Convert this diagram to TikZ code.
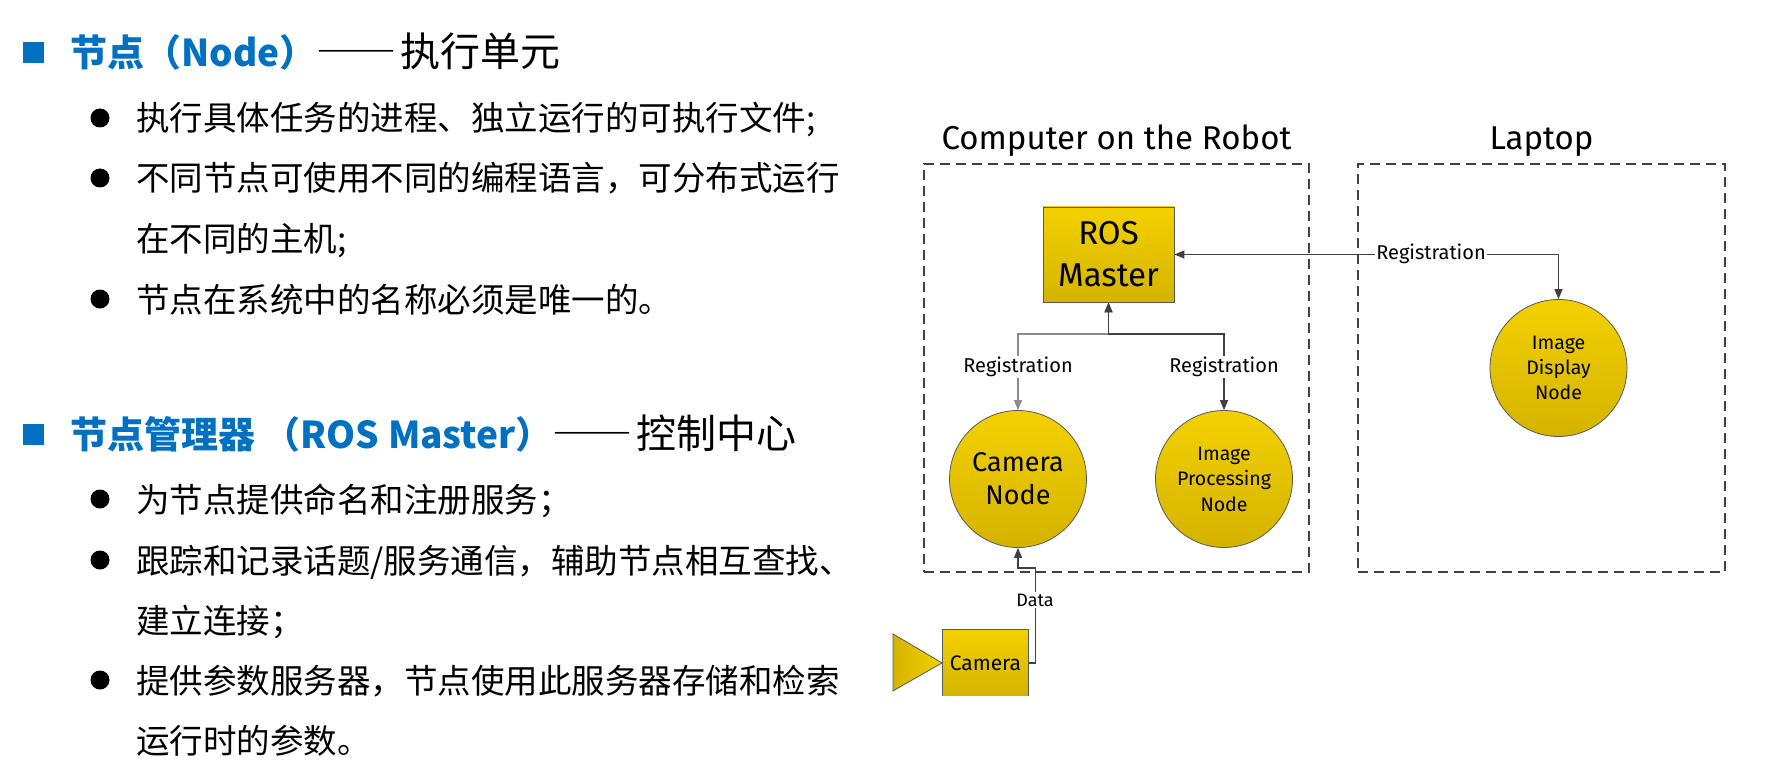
\documentclass[tikz,border=0pt]{standalone}
\usepackage{fontspec}
\setmainfont{Fira Sans}
\newfontfamily\cjk{Noto Sans CJK SC}
\usetikzlibrary{arrows.meta,positioning}
\definecolor{hblue}{RGB}{0,112,192}
\definecolor{ytop}{RGB}{243,209,0}
\definecolor{ybot}{RGB}{212,179,0}
\definecolor{lnk}{RGB}{64,64,64}
\newcommand\blue[1]{{\color{hblue}\bfseries\fontsize{37}{44}\selectfont #1}}
\newcommand\dashes{{\addfontfeatures{RawFeature=+fwid}——}}
\tikzset{
  >={Triangle[length=10pt,width=8pt]},
  yfill/.style={draw=black!65, line width=0.8pt, top color=ytop, bottom color=ybot},
  rnode/.style={yfill, circle, minimum size=137pt, inner sep=0pt, align=center},
  area/.style={draw=black!75, line width=1.2pt, dash pattern=on 10pt off 6pt, inner sep=0pt},
  link/.style={draw=lnk, line width=1.3pt},
  lbl/.style={fill=white, inner sep=1.5pt, font=\fontsize{20}{24}\selectfont},
  bul/.style={circle, fill=black, inner sep=0pt, minimum size=19pt},
  sq/.style={fill=hblue, inner sep=0pt, minimum size=21pt},
  body/.style={anchor=base west, inner sep=0pt, font=\cjk\fontsize{33.5}{40}\selectfont},
  head/.style={anchor=base west, inner sep=0pt, font=\cjk\fontsize{40}{46}\selectfont},
}
\begin{document}
\begin{tikzpicture}[x=1pt,y=-1pt]
\useasboundingbox (0,0) rectangle (1782,778);
% left text
\node[sq] (sqa) at (33,53) {};
\node[head] (heada) at (70,67) {\blue{节点（Node）}\dashes\hspace{4pt}执行单元};
\foreach \y/\n in {118/a,178/b,299/c}
  \node[bul] (bul\n) at (100,\y) {};
\node[body] (ta) at (136,131) {执行具体任务的进程、独立运行的可执行文件;};
\node[body] (tb) at (136,191) {不同节点可使用不同的编程语言，可分布式运行};
\node[body] (tbb) at (136,251) {在不同的主机;};
\node[body] (tc) at (136,312) {节点在系统中的名称必须是唯一的。};
\node[sq] (sqb) at (33,434) {};
\node[head] (headb) at (70,448) {\blue{节点管理器 （ROS Master）}\dashes\hspace{4pt}控制中心};
\foreach \y/\n in {499/d,560/e,680/f}
  \node[bul] (bul\n) at (100,\y) {};
\node[body] (td) at (136,512) {为节点提供命名和注册服务；};
\node[body] (te) at (136,573) {跟踪和记录话题/服务通信，辅助节点相互查找、};
\node[body] (tee) at (136,633) {建立连接；};
\node[body] (tf) at (136,693) {提供参数服务器，节点使用此服务器存储和检索};
\node[body] (tff) at (136,753) {运行时的参数。};
% hosts
\node[area, minimum width=385pt, minimum height=408pt] (robot) at (1116.5,368) {};
\node[area, minimum width=367pt, minimum height=408pt] (laptop) at (1541.5,368) {};
\node[anchor=base, font=\fontsize{33}{40}\selectfont] (trobot) at (1116.5,150) {Computer on the Robot};
\node[anchor=base, font=\fontsize{33}{40}\selectfont] (tlaptop) at (1541.5,150) {Laptop};
% nodes
\node[yfill, minimum width=131pt, minimum height=95pt, inner sep=0pt, align=center,
  font=\fontsize{33}{42}\selectfont] (ros) at (1108.5,254.5) {ROS\\Master};
\node[rnode, font=\fontsize{27}{33}\selectfont] (camnode) at (1018,479) {Camera\\Node};
\node[rnode, font=\fontsize{19.5}{25.5}\selectfont] (procnode) at (1224,479) {Image\\Processing\\Node};
\node[rnode, font=\fontsize{19.5}{25}\selectfont] (dispnode) at (1558.5,368) {Image\\Display\\Node};
% camera
\begin{scope}
\clip (860,600) rectangle (1100,695.3);
\node[yfill, minimum width=86pt, minimum height=67pt, anchor=north west, inner sep=0pt,
  font=\fontsize{21}{25}\selectfont] (cambox) at (942,629) {Camera};
\draw[draw=black!65, line width=0.8pt, left color=ybot, right color=ytop]
  (cambox.west) -- ++(-49,-29) -- ++(0,57) -- cycle;
\end{scope}
% connectors
\coordinate (jn) at (1108.5,334);
\draw[link, draw=black!45, <->] (ros.south) -- (jn) -| (camnode.north);
\draw[link, <->] (ros.south) -- (jn) -| (procnode.north);
\draw[link, <->] (ros.east) -| (dispnode.north);
\draw[link, ->] (cambox.east) -- ++(7,0) -- ++(0,-95) -| (camnode.south);
\node[lbl] (rega) at (1018,367) {Registration};
\node[lbl] (regb) at (1224,367) {Registration};
\node[lbl] (regc) at (1431,254) {Registration};
\node[lbl, font=\fontsize{18}{22}\selectfont] (data) at (1035,600) {Data};
\end{tikzpicture}
\end{document}
